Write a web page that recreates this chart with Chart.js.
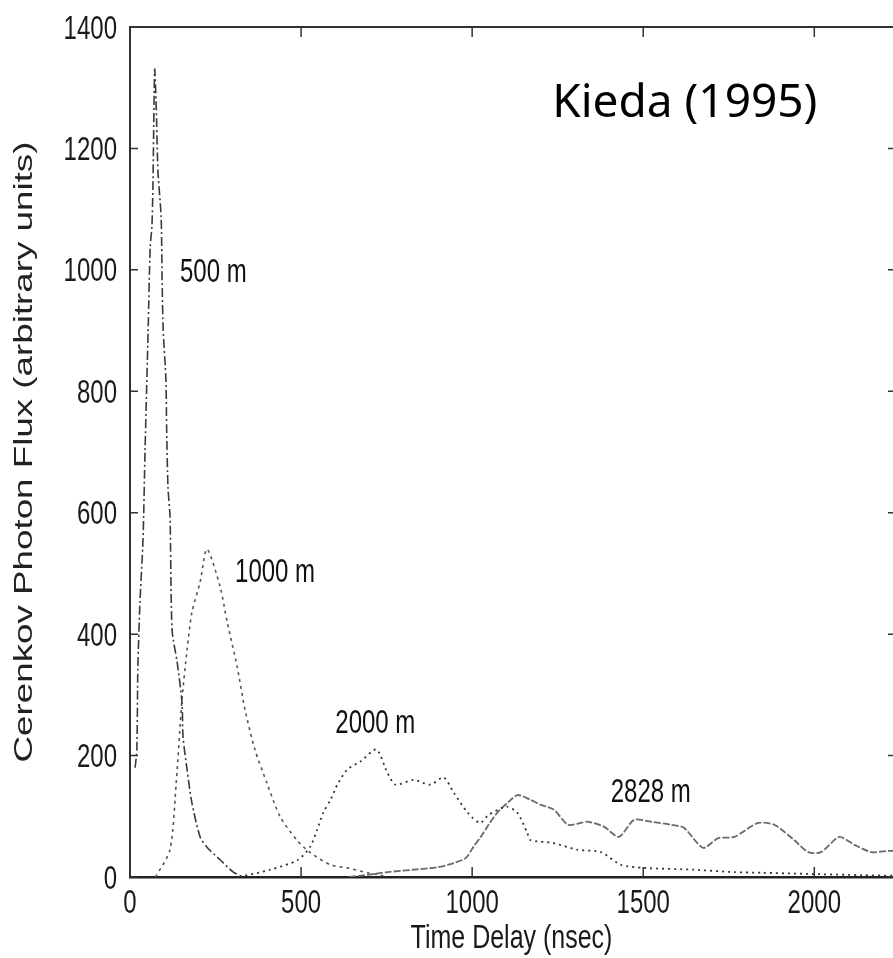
<!DOCTYPE html>
<html>
<head>
<meta charset="utf-8">
<script src="https://cdn.jsdelivr.net/npm/chart.js@4.4.1/dist/chart.umd.min.js"></script>
<style>
  body { margin: 0; background: #fff; }
  #wrap { width: 893px; height: 958px; }
</style>
</head>
<body>
<div id="wrap"><canvas id="fluxChart" width="893" height="958"></canvas></div>
<script>
// time delay (nsec) and photon flux, one pair of arrays per core distance
var t500 = [15, 20, 23, 29, 38, 44, 53, 59, 64, 67, 72, 76, 82, 91, 94, 97, 105, 107, 111, 117, 123, 138, 152, 155, 167, 181, 205, 225, 264, 302, 331];
var v500 = [180, 210, 346, 451, 555, 703, 900, 1038, 1071, 1137, 1330, 1280, 1160, 1087, 978, 901, 819, 741, 642, 593, 407, 353, 287, 231, 176, 122, 66, 49, 28, 8, 0];

var t1000 = [75, 117, 135, 152, 167, 181, 205, 225, 263, 284, 313, 336, 365, 400, 439, 489, 527, 586, 635, 694, 740];
var v1000 = [0, 45, 155, 292, 375, 436, 486, 540, 479, 420, 347, 276, 210, 155, 99, 60, 40, 20, 15, 7, 2];

var t2000 = [320, 410, 490, 527, 547, 565, 586, 606, 635, 673, 720, 752, 776, 828, 878, 917, 946, 987, 1023, 1047, 1088, 1102, 1132, 1161, 1170, 1237, 1307, 1376, 1435, 1502, 1649, 1766, 1845, 2138, 2230];
var v2000 = [0, 12, 28, 50, 78, 106, 127, 152, 177, 190, 210, 172, 152, 160, 152, 164, 139, 106, 89, 102, 114, 116, 106, 73, 61, 56, 45, 41, 20, 15, 12, 8, 7, 3, 2];

var t2828 = [640, 700, 752, 828, 899, 946, 981, 1004, 1025, 1048, 1075, 1107, 1133, 1171, 1200, 1239, 1280, 1318, 1338, 1385, 1429, 1473, 1523, 1581, 1619, 1675, 1719, 1766, 1836, 1883, 1941, 1982, 2020, 2073, 2117, 2167, 2217, 2230];
var v2828 = [0, 4, 8, 12, 16, 23, 31, 50, 66, 86, 107, 124, 135, 127, 119, 111, 86, 89, 91, 83, 66, 94, 91, 86, 81, 48, 64, 66, 89, 86, 61, 41, 41, 66, 53, 41, 43, 43];

// curve labels, placed in data units
var curveLabels = ['500 m', '1000 m', '2000 m', '2828 m'];
var labelT = [146, 307, 600, 1405];
var labelV = [980, 486, 237, 124];

var xTicks = [0, 500, 1000, 1500, 2000];

function pairs(ts, vs) {
    return ts.map(function (t, i) { return { x: t, y: vs[i] }; });
}

// the scanned figure is stretched vertically, so its upright text is drawn tall
var tallFont = "24px 'Liberation Sans', Arial, sans-serif";
var tallScale = 1.35;

function tallText(ctx, txt, x, y, align) {
    ctx.save();
    ctx.translate(x, y);
    ctx.scale(1, tallScale);
    ctx.textAlign = align;
    ctx.textBaseline = 'alphabetic';
    ctx.fillText(txt, 0, 0);
    ctx.restore();
}

// ticks pointing inward on all four sides, top frame line, tick labels
var frameTicks = {
    id: 'frameTicks',
    afterDraw: function (chart) {
        var ctx = chart.ctx, a = chart.chartArea;
        var xs = chart.scales.x, ys = chart.scales.y;
        ctx.save();
        ctx.strokeStyle = '#333';
        ctx.lineWidth = 2;
        ctx.beginPath();
        ctx.moveTo(a.left - 1, a.top);
        ctx.lineTo(a.right, a.top);
        ctx.stroke();
        ctx.lineWidth = 1.5;
        ctx.fillStyle = '#1a1a1a';
        ctx.font = tallFont;
        xs.ticks.forEach(function (tk) {
            var px = xs.getPixelForValue(tk.value);
            ctx.beginPath();
            ctx.moveTo(px, a.bottom); ctx.lineTo(px, a.bottom - 10);
            ctx.moveTo(px, a.top); ctx.lineTo(px, a.top + 10);
            ctx.stroke();
            tallText(ctx, String(tk.value), px, a.bottom + 36, 'center');
        });
        ys.ticks.forEach(function (tk) {
            var py = ys.getPixelForValue(tk.value);
            ctx.beginPath();
            ctx.moveTo(a.left, py); ctx.lineTo(a.left + 8, py);
            ctx.moveTo(a.right, py); ctx.lineTo(a.right - 5, py);
            ctx.stroke();
            tallText(ctx, String(tk.value), a.left - 13, py + 11.5, 'right');
        });
        ctx.font = "25px 'Liberation Sans', Arial, sans-serif";
        ctx.save();
        ctx.translate((a.left + a.right) / 2, 948);
        ctx.scale(1, 1.3);
        ctx.textAlign = 'center';
        ctx.fillText('Time Delay (nsec)', 0, 0);
        ctx.restore();
        ctx.restore();
    }
};

// curve labels, reference note and the stretched y title
var annotations = {
    id: 'annotations',
    afterDraw: function (chart) {
        var ctx = chart.ctx, a = chart.chartArea;
        var xs = chart.scales.x, ys = chart.scales.y;
        ctx.save();
        ctx.fillStyle = '#111';
        ctx.font = tallFont;
        curveLabels.forEach(function (txt, i) {
            tallText(ctx, txt, xs.getPixelForValue(labelT[i]), ys.getPixelForValue(labelV[i]), 'left');
        });
        ctx.font = "46px 'Noto Sans', 'Open Sans', sans-serif";
        ctx.fillStyle = '#000';
        ctx.textAlign = 'left';
        ctx.fillText('Kieda (1995)', xs.getPixelForValue(1234), ys.getPixelForValue(1252));

        ctx.translate(25, (a.top + a.bottom) / 2);
        ctx.rotate(-Math.PI / 2);
        ctx.scale(1.47, 1);
        ctx.textAlign = 'center';
        ctx.textBaseline = 'middle';
        ctx.fillStyle = '#222';
        ctx.font = "25px 'Liberation Sans', Arial, sans-serif";
        ctx.fillText('Cerenkov Photon Flux (arbitrary units)', 0, 0);
        ctx.restore();
    }
};

var fluxChart = new Chart('fluxChart', {
    type: 'line',
    data: {
        datasets: [{
            label: '500 m',
            data: pairs(t500, v500),
            borderColor: '#3a3a3a',
            borderWidth: 1.6,
            borderDash: [9, 3, 2, 3]
        }, {
            label: '1000 m',
            data: pairs(t1000, v1000),
            borderColor: '#555',
            borderWidth: 1.6,
            borderDash: [3, 4]
        }, {
            label: '2000 m',
            data: pairs(t2000, v2000),
            borderColor: '#333',
            borderWidth: 1.8,
            borderDash: [2, 4]
        }, {
            label: '2828 m',
            data: pairs(t2828, v2828),
            borderColor: '#6a6a6a',
            borderWidth: 1.8,
            borderDash: [7, 2]
        }]
    },
    options: {
        responsive: false,
        animation: false,
        devicePixelRatio: 1,
        layout: { padding: { top: 27, right: 0, left: 0, bottom: 0 } },
        elements: {
            point: { radius: 0 },
            line: { tension: 0.25, fill: false }
        },
        plugins: {
            legend: { display: false },
            tooltip: { enabled: false }
        },
        scales: {
            x: {
                type: 'linear',
                min: 0,
                max: 2230,
                afterBuildTicks: function (scale) {
                    scale.ticks = xTicks.map(function (v) { return { value: v }; });
                },
                afterFit: function (scale) { scale.height = 81; },
                grid: { drawOnChartArea: false, drawTicks: false },
                border: { display: true, color: '#222', width: 2.5 },
                ticks: { display: false }
            },
            y: {
                min: 0,
                max: 1400,
                afterFit: function (scale) { scale.width = 130; },
                grid: { drawOnChartArea: false, drawTicks: false },
                border: { display: true, color: '#333', width: 2 },
                ticks: { display: false, stepSize: 200 }
            }
        }
    },
    plugins: [frameTicks, annotations]
});
</script>
</body>
</html>
